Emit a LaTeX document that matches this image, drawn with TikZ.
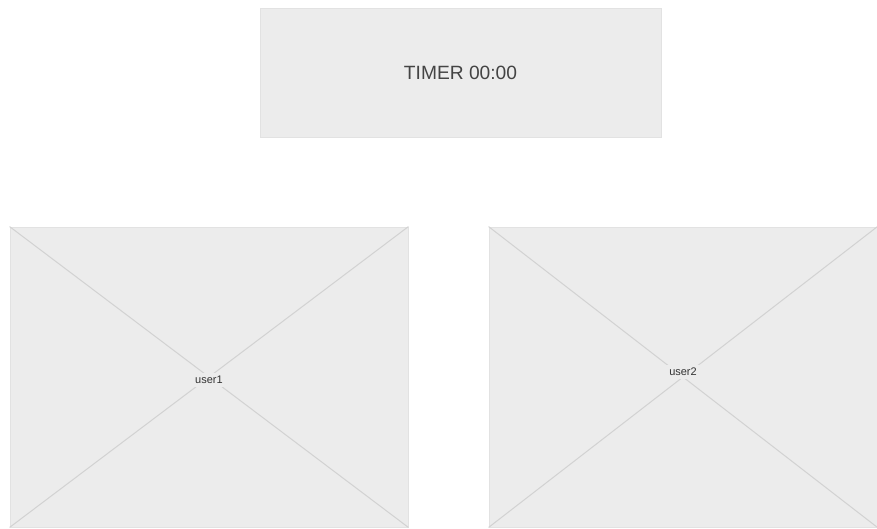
\documentclass[tikz,border=0pt]{standalone}
\usepackage{fontspec}
\setmainfont{Liberation Sans}
\definecolor{panelfill}{HTML}{ECECEC}
\definecolor{paneledge}{HTML}{E2E2E2}
\definecolor{crossline}{HTML}{D2D2D2}
\definecolor{labeltext}{HTML}{444444}
\tikzset{
  panel/.style={fill=panelfill, draw=paneledge, line width=0.4pt, inner sep=0pt},
  crossdiag/.style={crossline, line width=0.5pt},
  userlabel/.style={fill=panelfill, text=black!80, font=\fontsize{5.5}{6}\selectfont, inner sep=1.5pt}
}
\begin{document}
\begin{tikzpicture}[x=0.5pt, y=-0.5pt]
        % --- Khung nền ---
        \useasboundingbox (0,0) rectangle (877,529);

        % --- Hộp đồng hồ ---
        \node[panel, minimum width=200.5pt, minimum height=64.5pt, text=labeltext,
              font=\fontsize{9.6}{11}\selectfont] (timer) at (460.5,72.5) {TIMER 00:00};

        % --- Hai khung video ---
        \node[panel, minimum width=199pt, minimum height=150pt] (frame1) at (209,377) {};
        \node[panel, minimum width=194pt, minimum height=150pt] (frame2) at (683,377) {};

        % Đường chéo khung 1
        \draw[crossdiag] (frame1.north west) -- (frame1.south east);
        \draw[crossdiag] (frame1.south west) -- (frame1.north east);
        % Đường chéo khung 2
        \draw[crossdiag] (frame2.north west) -- (frame2.south east);
        \draw[crossdiag] (frame2.south west) -- (frame2.north east);

        % --- Nhãn người dùng ---
        \node[userlabel] (user1) at (209,380) {user1};
        \node[userlabel] (user2) at (683,372) {user2};
\end{tikzpicture}
\end{document}
